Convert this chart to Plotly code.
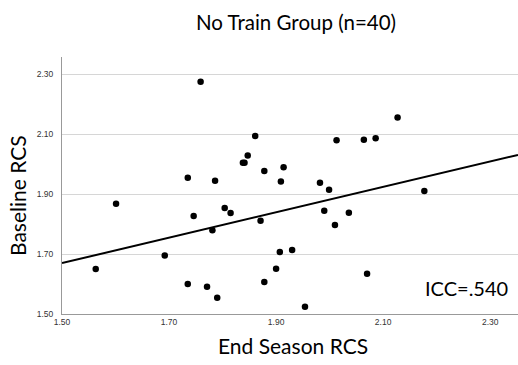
import plotly.graph_objects as go

end_season = [1.759, 1.861, 1.847, 1.841, 1.838, 1.878, 1.914, 1.735, 1.786, 1.909,
              1.601, 1.746, 1.804, 1.815, 1.781, 1.871, 1.692, 1.907, 1.930, 1.563,
              1.900, 1.735, 1.771, 1.878, 1.790, 1.954, 2.127, 2.013, 2.064, 2.086,
              1.982, 1.999, 2.177, 1.990, 2.036, 2.010, 2.070]
baseline = [2.275, 2.094, 2.029, 2.005, 2.005, 1.977, 1.990, 1.955, 1.945, 1.942,
            1.868, 1.827, 1.854, 1.837, 1.780, 1.811, 1.695, 1.707, 1.714, 1.650,
            1.651, 1.600, 1.591, 1.607, 1.554, 1.524, 2.156, 2.080, 2.082, 2.087,
            1.938, 1.915, 1.911, 1.845, 1.838, 1.797, 1.634]
# fit line endpoints
fit_x = [1.50, 2.352]
fit_y = [1.670, 2.031]
tick_vals = [1.50, 1.70, 1.90, 2.10, 2.30]
tick_text = ["1.50", "1.70", "1.90", "2.10", "2.30"]
x_range = [1.50, 2.352]
y_range = [1.50, 2.358]

fig = go.Figure()
fig.add_trace(go.Scatter(x=fit_x, y=fit_y, mode="lines",
                         line=dict(color="black", width=2), hoverinfo="skip"))
fig.add_trace(go.Scatter(x=end_season, y=baseline, mode="markers",
                         marker=dict(color="black", size=6.5, line=dict(width=0))))

fig.update_layout(
    width=518, height=365,
    margin=dict(l=62, r=0, t=57, b=51),
    paper_bgcolor="white", plot_bgcolor="white",
    showlegend=False,
    font=dict(family="Lato", color="black"),
    xaxis=dict(range=x_range, tickvals=tick_vals, ticktext=tick_text,
               showgrid=False, zeroline=False, showline=True, linecolor="#999999",
               linewidth=1, ticks="", tickfont=dict(family="Liberation Sans", size=8.5, color="#333333")),
    yaxis=dict(range=y_range, tickvals=tick_vals, ticktext=tick_text,
               showgrid=True, gridcolor="#d6d6d6", gridwidth=1, zeroline=False,
               showline=True, linecolor="#999999", linewidth=1, ticks="",
               ticklabelstandoff=6,
               tickfont=dict(family="Liberation Sans", size=8.5, color="#333333")),
)

def px(xp):
    return (xp - 62) / 456
def py(yp):
    return (314 - yp) / 257

fig.add_annotation(text="No Train Group (n=40)", x=px(296), y=py(22), xref="paper", yref="paper",
                   showarrow=False, xanchor="center", yanchor="middle",
                   font=dict(size=20.5, family="Lato", color="black"))
fig.add_annotation(text="End Season RCS", x=px(293), y=py(345), xref="paper", yref="paper",
                   showarrow=False, xanchor="center", yanchor="middle",
                   font=dict(size=21, family="Lato", color="black"))
fig.add_annotation(text="Baseline RCS", x=px(17), y=py(196), xref="paper", yref="paper",
                   showarrow=False, xanchor="center", yanchor="middle", textangle=-90,
                   font=dict(size=21, family="Lato", color="black"))
fig.add_annotation(text="ICC=.540", x=px(466), y=py(288), xref="paper", yref="paper",
                   showarrow=False, xanchor="center", yanchor="middle",
                   font=dict(size=20, family="Lato", color="black"))

fig.write_html("out.html")
